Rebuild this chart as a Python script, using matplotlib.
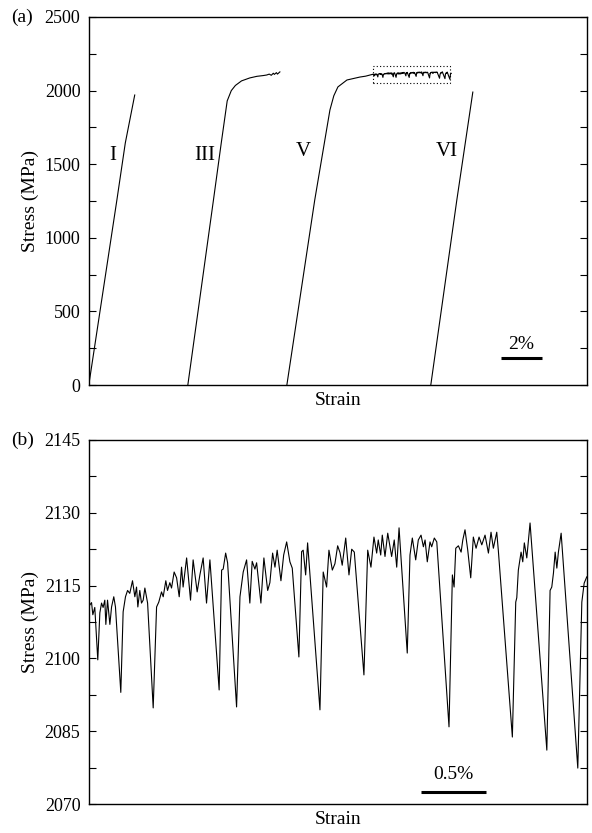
import matplotlib
matplotlib.use("Agg")
import matplotlib.pyplot as plt
from matplotlib.ticker import MultipleLocator
from matplotlib.patches import Rectangle

plt.rcParams['font.family'] = ['Liberation Serif', 'DejaVu Serif']

# ---- panel (a): stress-strain curves (strain in %, stress in MPa)
strain_I = [0.0, 1.37, 1.78, 2.24]
stress_I = [0, 1257, 1644, 1970]

strain_III = [4.83, 6.08, 6.46, 6.75, 6.95, 7.15, 7.45, 7.85, 8.2, 8.5, 8.68,
              8.8, 8.9, 9.0, 9.05, 9.15, 9.2, 9.32]
stress_III = [0, 1257, 1644, 1930, 2000, 2035, 2066, 2086, 2097, 2102, 2106,
              2112, 2104, 2118, 2110, 2122, 2112, 2127]

strain_V = [9.66, 11.02, 11.49, 11.76, 11.95, 12.15, 12.59, 13.22, 13.5]
stress_V = [0, 1257, 1644, 1868, 1965, 2025, 2072, 2092, 2098]

strain_VI = [16.68, 17.95, 18.73]
stress_VI = [0, 1257, 1990]

labels_a = ['I', 'III', 'V', 'VI']
label_x = [1.17, 5.66, 10.44, 17.46]
label_y = [1562, 1562, 1583, 1583]

# ---- panel (b): serrated flow of curve V (strain in %, relative)
strain_b = [0.008, 0.021, 0.031, 0.046, 0.067, 0.069, 0.085, 0.098, 0.110, 0.123,
            0.131, 0.144, 0.162, 0.175, 0.192, 0.205, 0.246, 0.264, 0.282, 0.298,
            0.315, 0.336, 0.354, 0.367, 0.377, 0.392, 0.405, 0.418, 0.431, 0.452,
            0.495, 0.521, 0.538, 0.559, 0.572, 0.592, 0.605, 0.623, 0.636, 0.656,
            0.675, 0.695, 0.713, 0.725, 0.752, 0.782, 0.802, 0.833, 0.854, 0.879,
            0.905, 0.931, 1.002, 1.021, 1.033, 1.052, 1.067, 1.136, 1.162, 1.187,
            1.213, 1.238, 1.256, 1.277, 1.290, 1.323, 1.346, 1.375, 1.392, 1.413,
            1.431, 1.448, 1.477, 1.498, 1.521, 1.546, 1.564, 1.615, 1.636, 1.648,
            1.667, 1.682, 1.777, 1.802, 1.828, 1.846, 1.872, 1.892, 1.913, 1.931,
            1.948, 1.975, 2.000, 2.021, 2.041, 2.115, 2.144, 2.169, 2.192, 2.213,
            2.225, 2.244, 2.256, 2.277, 2.298, 2.328, 2.348, 2.367, 2.385, 2.448,
            2.469, 2.487, 2.513, 2.533, 2.554, 2.572, 2.585, 2.602, 2.623, 2.636,
            2.656, 2.675, 2.769, 2.795, 2.808, 2.821, 2.841, 2.862, 2.875, 2.892,
            2.913, 2.936, 2.956, 2.977, 3.000, 3.021, 3.046, 3.072, 3.092, 3.110,
            3.136, 3.148, 3.256, 3.282, 3.290, 3.302, 3.323, 3.336, 3.348, 3.367,
            3.392, 3.521, 3.546, 3.559, 3.572, 3.585, 3.598, 3.610, 3.631, 3.759,
            3.790, 3.808, 3.828]
stress_b = [2111, 2111.5, 2109, 2110.5, 2100.5, 2099.7, 2109.4, 2111.4, 2110.5, 2112,
            2107, 2112, 2107, 2110.6, 2112.7, 2110.6, 2093, 2109.6, 2112.7, 2114,
            2113.4, 2116, 2112.7, 2114.7, 2110.6, 2114, 2111.4, 2112, 2114.5, 2111.4,
            2089.8, 2110.6, 2111.6, 2113.7, 2112.7, 2116, 2114, 2115.6, 2114.5, 2117.8,
            2116.6, 2112.7, 2118.8, 2114.7, 2120.7, 2112, 2120.3, 2113.7, 2117.2, 2120.7,
            2111.4, 2120.3, 2093.5, 2118.2, 2118.4, 2121.7, 2119.7, 2090, 2112.7, 2117.8,
            2120.3, 2111.4, 2120, 2118.4, 2119.7, 2111.4, 2120.7, 2114, 2115.6, 2121.7,
            2118.8, 2122.3, 2116, 2121.3, 2124, 2119.9, 2118.6, 2100.3, 2122, 2122.3,
            2117.2, 2123.8, 2089.4, 2117.8, 2114.7, 2122.3, 2118.2, 2119.5, 2123.2, 2121.8,
            2119.2, 2124.8, 2117.2, 2122.5, 2121.9, 2096.6, 2122.3, 2118.8, 2125, 2121.7,
            2124.4, 2121.3, 2125.4, 2121, 2125.8, 2121, 2124.4, 2118.8, 2126.9, 2101.1,
            2121.3, 2124.8, 2120.3, 2124.4, 2125.4, 2123, 2124.4, 2119.9, 2124, 2123,
            2124.8, 2124, 2085.9, 2117.2, 2114.7, 2122.7, 2123.2, 2121.9, 2124.4, 2126.5,
            2122.3, 2116.6, 2125, 2122.7, 2125, 2123.4, 2125.4, 2121.7, 2126, 2122.7,
            2126, 2122.3, 2083.8, 2111.6, 2112.5, 2118.2, 2121.9, 2119.9, 2123.8, 2120.7,
            2127.9, 2081.1, 2114, 2114.7, 2117.6, 2121.9, 2118.6, 2121.9, 2125.8, 2077.4,
            2111.6, 2115.5, 2116.8]

box_offset = 13.85  # where panel (b) starts on curve V

fig = plt.figure(figsize=(5.92, 8.33), dpi=100)
ax1 = fig.add_axes([0.150, 0.5378, 0.8416, 0.4418])
ax2 = fig.add_axes([0.150, 0.0348, 0.8416, 0.4370])

line_kw = dict(color='black', lw=0.8)

# (a)
ax1.plot(strain_I, stress_I, **line_kw)
ax1.plot(strain_III, stress_III, **line_kw)
ax1.plot(strain_V + [s + box_offset for s in strain_b],
         stress_V + stress_b, **line_kw)
ax1.plot(strain_VI, stress_VI, **line_kw)
for lab, lx, ly in zip(labels_a, label_x, label_y):
    ax1.text(lx, ly, lab, fontsize=15, ha='center', va='center')

ax1.add_patch(Rectangle((13.85, 2052), 3.75, 115, fill=False,
                        ls=(0, (1, 2)), lw=0.8, color='black'))

ax1.plot([20.1, 22.1], [183, 183], color='black', lw=2.2, solid_capstyle='butt')
ax1.text(21.1, 275, '2%', fontsize=14, ha='center', va='center')

ax1.set_xlim(0, 24.3)
ax1.set_ylim(0, 2500)
ax1.yaxis.set_major_locator(MultipleLocator(500))
ax1.yaxis.set_minor_locator(MultipleLocator(250))
ax1.set_ylabel('Stress (MPa)', fontsize=14, labelpad=4)
ax1.set_xlabel('Strain', fontsize=14, labelpad=5)
ax1.text(-0.155, 1.0, '(a)', transform=ax1.transAxes, fontsize=14,
         ha='left', va='center')

# (b)
ax2.plot(strain_b, stress_b, **line_kw)
ax2.plot([2.554, 3.054], [2072.4, 2072.4], color='black', lw=2.2,
         solid_capstyle='butt')
ax2.text(2.804, 2076.0, '0.5%', fontsize=14, ha='center', va='center')

ax2.set_xlim(0, 3.83)
ax2.set_ylim(2070, 2145)
ax2.yaxis.set_major_locator(MultipleLocator(15))
ax2.yaxis.set_minor_locator(MultipleLocator(7.5))
ax2.set_ylabel('Stress (MPa)', fontsize=14, labelpad=4)
ax2.set_xlabel('Strain', fontsize=14, labelpad=5)
ax2.text(-0.155, 1.0, '(b)', transform=ax2.transAxes, fontsize=14,
         ha='left', va='center')

for ax in (ax1, ax2):
    ax.set_xticks([])
    ax.tick_params(axis='y', which='both', direction='in', left=True,
                   right=True, labelsize=13, pad=6)
    ax.tick_params(axis='y', which='major', length=5, width=0.8)
    ax.tick_params(axis='y', which='minor', length=5, width=0.8)
    for sp in ax.spines.values():
        sp.set_linewidth(1.0)

fig.savefig('out.png', dpi=100)
